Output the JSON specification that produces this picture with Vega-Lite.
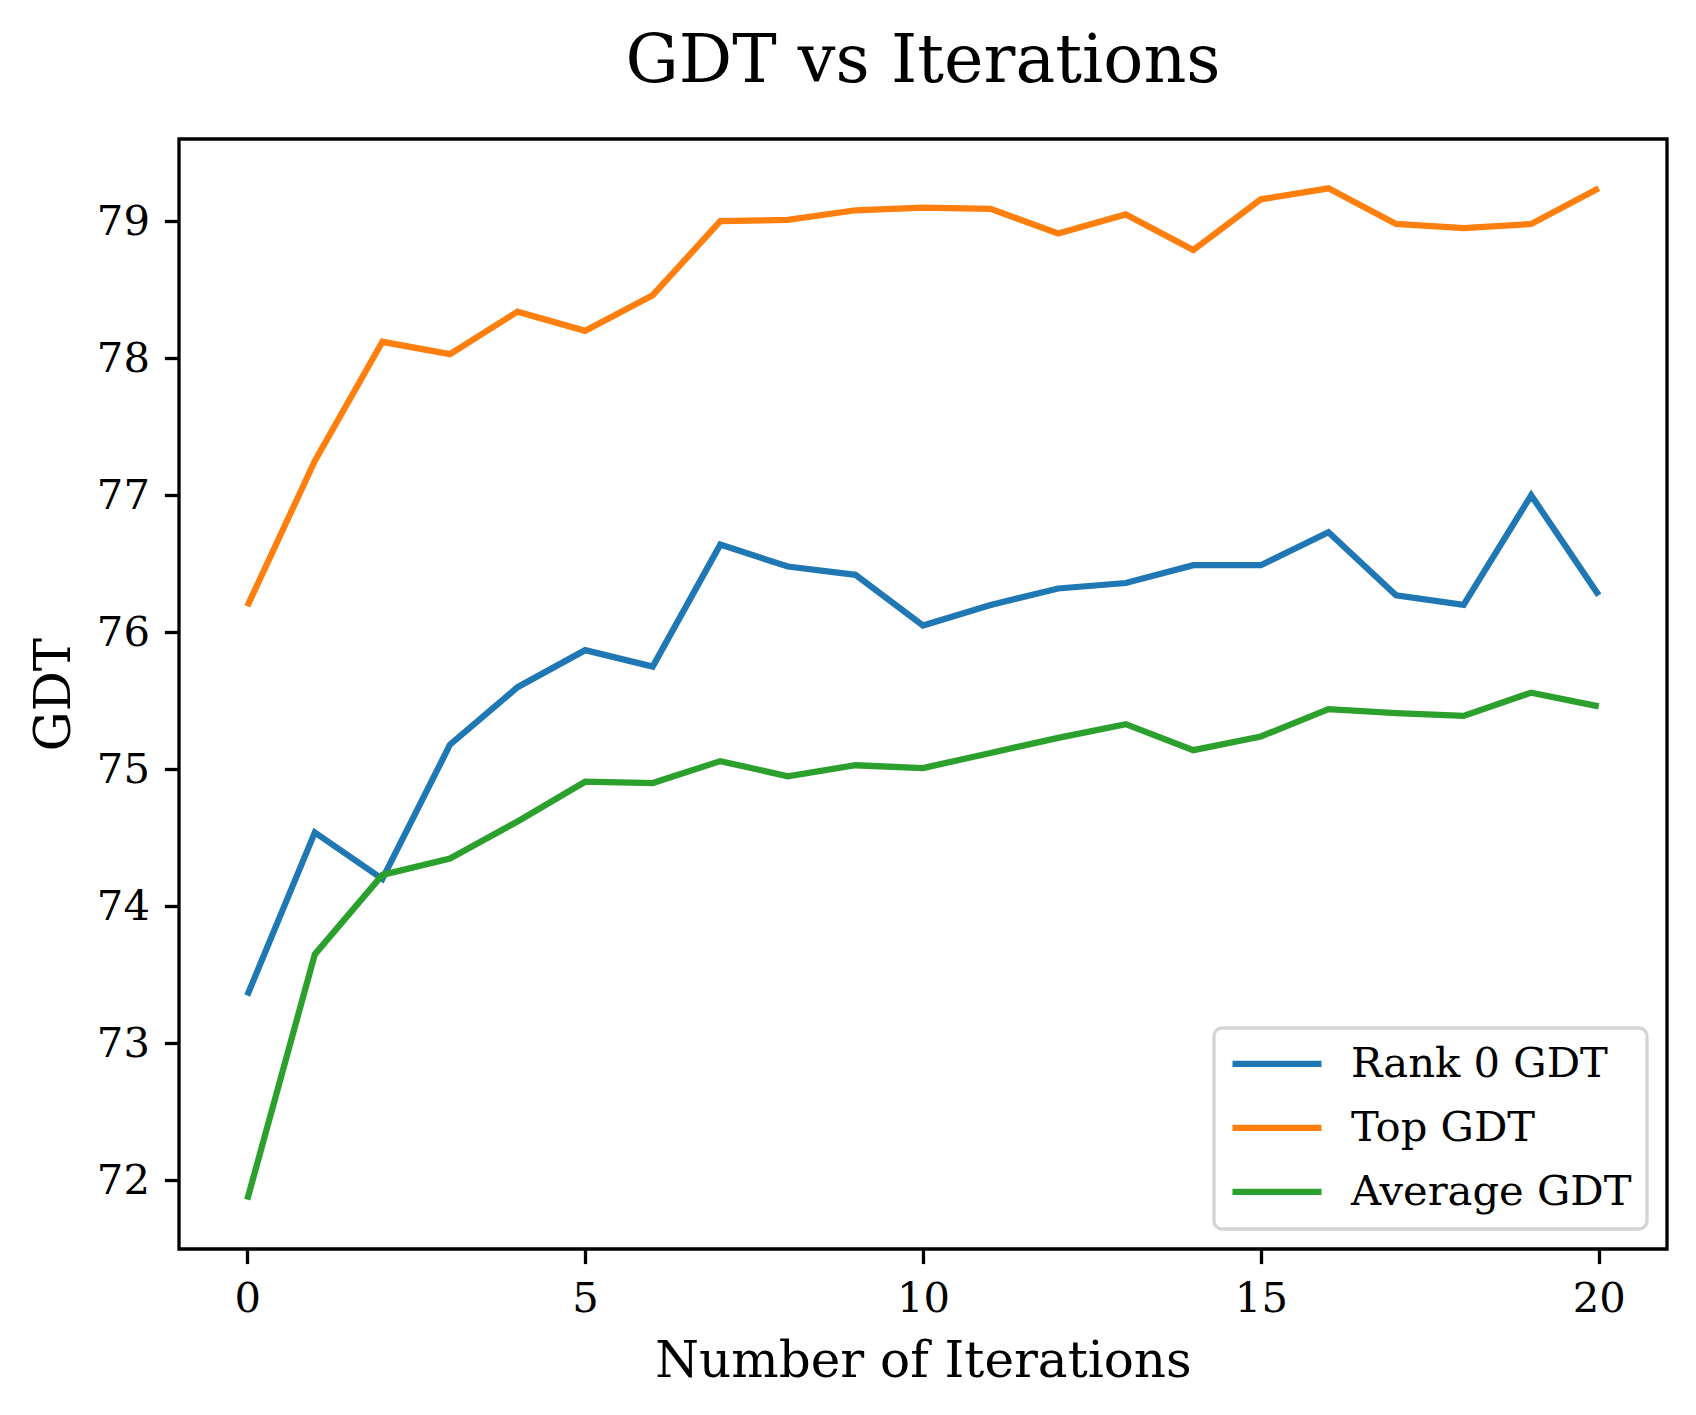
{
  "$schema": "https://vega.github.io/schema/vega-lite/v6.json",
  "autosize": {"type": "none"},
  "padding": {"left": 179, "top": 139, "right": 29, "bottom": 167},
  "width": 1488,
  "height": 1110,
  "background": "white",
  "title": {
    "text": "GDT vs Iterations",
    "font": "DejaVu Serif",
    "fontSize": 66.7,
    "fontWeight": "normal",
    "color": "black",
    "anchor": "middle",
    "baseline": "alphabetic",
    "offset": -10
  },
  "config": {
    "view": {"stroke": "black", "strokeWidth": 3.3},
    "font": "DejaVu Serif",
    "axis": {
      "domain": false,
      "grid": false,
      "ticks": true,
      "tickColor": "black",
      "tickWidth": 3.3,
      "tickSize": 14.6,
      "labelFont": "DejaVu Serif",
      "labelFontSize": 41.7,
      "labelColor": "black",
      "labelPadding": 15,
      "titleFont": "DejaVu Serif",
      "titleFontSize": 50,
      "titleFontWeight": "normal",
      "titleColor": "black"
    },
    "legend": {
      "labelFont": "DejaVu Serif",
      "labelFontSize": 41.7,
      "labelColor": "black",
      "strokeWidth": 3.3
    }
  },
  "data": {
    "values": [
      {"iteration": 0, "series": "Rank 0 GDT", "gdt": 73.35},
      {"iteration": 1, "series": "Rank 0 GDT", "gdt": 74.54},
      {"iteration": 2, "series": "Rank 0 GDT", "gdt": 74.20},
      {"iteration": 3, "series": "Rank 0 GDT", "gdt": 75.18},
      {"iteration": 4, "series": "Rank 0 GDT", "gdt": 75.60},
      {"iteration": 5, "series": "Rank 0 GDT", "gdt": 75.87},
      {"iteration": 6, "series": "Rank 0 GDT", "gdt": 75.75},
      {"iteration": 7, "series": "Rank 0 GDT", "gdt": 76.64},
      {"iteration": 8, "series": "Rank 0 GDT", "gdt": 76.48},
      {"iteration": 9, "series": "Rank 0 GDT", "gdt": 76.42},
      {"iteration": 10, "series": "Rank 0 GDT", "gdt": 76.05},
      {"iteration": 11, "series": "Rank 0 GDT", "gdt": 76.20},
      {"iteration": 12, "series": "Rank 0 GDT", "gdt": 76.32},
      {"iteration": 13, "series": "Rank 0 GDT", "gdt": 76.36},
      {"iteration": 14, "series": "Rank 0 GDT", "gdt": 76.49},
      {"iteration": 15, "series": "Rank 0 GDT", "gdt": 76.49},
      {"iteration": 16, "series": "Rank 0 GDT", "gdt": 76.73},
      {"iteration": 17, "series": "Rank 0 GDT", "gdt": 76.27},
      {"iteration": 18, "series": "Rank 0 GDT", "gdt": 76.20},
      {"iteration": 19, "series": "Rank 0 GDT", "gdt": 77.00},
      {"iteration": 20, "series": "Rank 0 GDT", "gdt": 76.27},
      {"iteration": 0, "series": "Top GDT", "gdt": 76.19},
      {"iteration": 1, "series": "Top GDT", "gdt": 77.25},
      {"iteration": 2, "series": "Top GDT", "gdt": 78.12},
      {"iteration": 3, "series": "Top GDT", "gdt": 78.03},
      {"iteration": 4, "series": "Top GDT", "gdt": 78.34},
      {"iteration": 5, "series": "Top GDT", "gdt": 78.20},
      {"iteration": 6, "series": "Top GDT", "gdt": 78.46},
      {"iteration": 7, "series": "Top GDT", "gdt": 79.00},
      {"iteration": 8, "series": "Top GDT", "gdt": 79.01},
      {"iteration": 9, "series": "Top GDT", "gdt": 79.08},
      {"iteration": 10, "series": "Top GDT", "gdt": 79.10},
      {"iteration": 11, "series": "Top GDT", "gdt": 79.09},
      {"iteration": 12, "series": "Top GDT", "gdt": 78.91},
      {"iteration": 13, "series": "Top GDT", "gdt": 79.05},
      {"iteration": 14, "series": "Top GDT", "gdt": 78.79},
      {"iteration": 15, "series": "Top GDT", "gdt": 79.16},
      {"iteration": 16, "series": "Top GDT", "gdt": 79.24},
      {"iteration": 17, "series": "Top GDT", "gdt": 78.98},
      {"iteration": 18, "series": "Top GDT", "gdt": 78.95},
      {"iteration": 19, "series": "Top GDT", "gdt": 78.98},
      {"iteration": 20, "series": "Top GDT", "gdt": 79.24},
      {"iteration": 0, "series": "Average GDT", "gdt": 71.86},
      {"iteration": 1, "series": "Average GDT", "gdt": 73.65},
      {"iteration": 2, "series": "Average GDT", "gdt": 74.23},
      {"iteration": 3, "series": "Average GDT", "gdt": 74.35},
      {"iteration": 4, "series": "Average GDT", "gdt": 74.62},
      {"iteration": 5, "series": "Average GDT", "gdt": 74.91},
      {"iteration": 6, "series": "Average GDT", "gdt": 74.90},
      {"iteration": 7, "series": "Average GDT", "gdt": 75.06},
      {"iteration": 8, "series": "Average GDT", "gdt": 74.95},
      {"iteration": 9, "series": "Average GDT", "gdt": 75.03},
      {"iteration": 10, "series": "Average GDT", "gdt": 75.01},
      {"iteration": 11, "series": "Average GDT", "gdt": 75.12},
      {"iteration": 12, "series": "Average GDT", "gdt": 75.23},
      {"iteration": 13, "series": "Average GDT", "gdt": 75.33},
      {"iteration": 14, "series": "Average GDT", "gdt": 75.14},
      {"iteration": 15, "series": "Average GDT", "gdt": 75.24},
      {"iteration": 16, "series": "Average GDT", "gdt": 75.44},
      {"iteration": 17, "series": "Average GDT", "gdt": 75.41},
      {"iteration": 18, "series": "Average GDT", "gdt": 75.39},
      {"iteration": 19, "series": "Average GDT", "gdt": 75.56},
      {"iteration": 20, "series": "Average GDT", "gdt": 75.46}
    ]
  },
  "mark": {"type": "line", "strokeWidth": 6.25, "strokeCap": "butt", "strokeJoin": "miter", "clip": true},
  "encoding": {
    "x": {
      "field": "iteration",
      "type": "quantitative",
      "scale": {"domain": [-1.01, 21.01], "nice": false, "zero": false},
      "axis": {
        "title": "Number of Iterations",
        "values": [0, 5, 10, 15, 20],
        "titlePadding": 16,
        "titleBaseline": "top"
      }
    },
    "y": {
      "field": "gdt",
      "type": "quantitative",
      "scale": {"domain": [71.5, 79.6], "nice": false, "zero": false},
      "axis": {
        "title": "GDT",
        "values": [72, 73, 74, 75, 76, 77, 78, 79],
        "titlePadding": 27,
        "titleBaseline": "alphabetic"
      }
    },
    "color": {
      "field": "series",
      "type": "nominal",
      "sort": ["Rank 0 GDT", "Top GDT", "Average GDT"],
      "scale": {
        "domain": ["Rank 0 GDT", "Top GDT", "Average GDT"],
        "range": ["#1f77b4", "#ff7f0e", "#2ca02c"]
      },
      "legend": {
        "title": null,
        "orient": "bottom-right",
        "offset": 20,
        "padding": 15,
        "fillColor": "rgba(255,255,255,0.8)",
        "strokeColor": "#d4d4d4",
        "cornerRadius": 8,
        "symbolType": "stroke",
        "symbolSize": 7921,
        "symbolStrokeWidth": 6.25,
        "labelOffset": 26,
        "labelLimit": 600,
        "clipHeight": 41.7,
        "rowPadding": 21,
        "labelFontSize": 41.7
      }
    }
  }
}
